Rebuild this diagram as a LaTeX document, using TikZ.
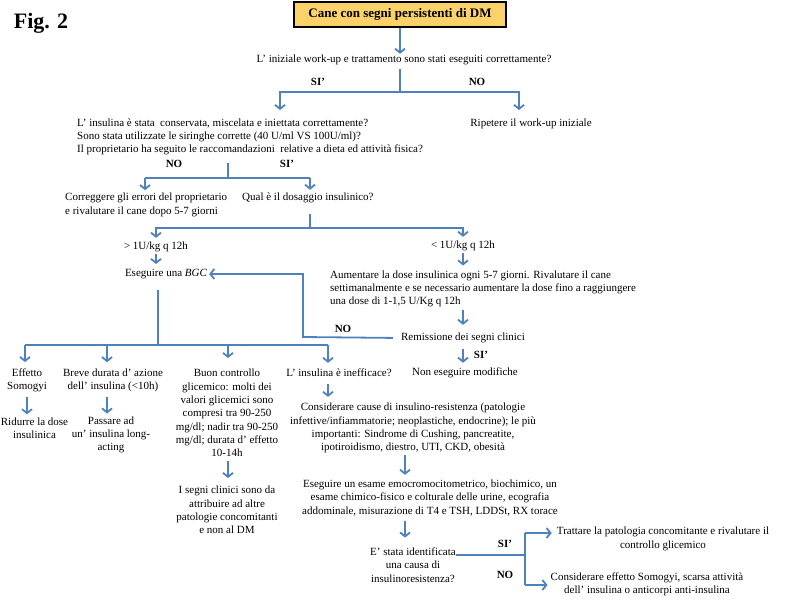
\documentclass[tikz,border=0pt]{standalone}
\usepackage{fontspec}
\setmainfont{Liberation Serif}
\usetikzlibrary{arrows.meta}
\definecolor{ablue}{RGB}{79,129,189}
\definecolor{tfill}{RGB}{250,210,105}
\begin{document}
\begin{tikzpicture}[x=1pt,y=-1pt,
  every node/.style={inner sep=0pt, align=center, font=\fontsize{11}{13.3}\selectfont},
  ltxt/.style={align=left, anchor=west},
  lbl/.style={font=\fontsize{11}{13.3}\selectfont\bfseries},
  conn/.style={draw=ablue, line width=1.8pt},
  arr/.style={conn, -{Straight Barb[length=4pt,width=10pt]}}]
\useasboundingbox (0,0) rectangle (797,600);

% nodes
\node[font=\fontsize{22}{26}\selectfont\bfseries] (fig) at (41,23) {Fig. 2};
\node[draw=black, line width=1.2pt, fill=tfill, minimum width=212pt, minimum height=25pt,
      font=\fontsize{13}{15}\selectfont\bfseries] (title) at (400,14.5) {Cane con segni persistenti di DM};
\node (q1) at (404,60) {L’ iniziale work-up e trattamento sono stati eseguiti correttamente?};
\node[lbl] (si1) at (318,82) {SI’};
\node[lbl] (no1) at (477,82) {NO};
\node (r1) at (531,124) {Ripetere il work-up iniziale};
\node[ltxt] (q2) at (77,137) {L’ insulina è stata \ conservata, miscelata e iniettata correttamente?\\Sono stata utilizzate le siringhe corrette (40 U/ml VS 100U/ml)?\\Il proprietario ha seguito le raccomandazioni \ relative a dieta ed attività fisica?};
\node[lbl] (no2) at (174,164) {NO};
\node[lbl] (si2) at (287,164) {SI’};
\node[ltxt] (c1) at (65,205) {Correggere gli errori del proprietario\\e rivalutare il cane dopo 5-7 giorni};
\node[ltxt] (q3) at (242,198) {Qual è il dosaggio insulinico?};
\node (d1) at (156,247) {> 1U/kg q 12h};
\node (d2) at (463,246) {< 1U/kg q 12h};
\node (bgc) at (166,274) {Eseguire una \textit{BGC}};
\node[ltxt] (aum) at (330,289) {Aumentare la dose insulinica ogni 5-7 giorni. Rivalutare il cane\\settimanalmente e se necessario aumentare la dose fino a raggiungere\\una dose di 1-1,5 U/Kg q 12h};
\node (rem) at (463,338) {Remissione dei segni clinici};
\node[lbl] (no3) at (343,329) {NO};
\node[lbl] (si3) at (481,355) {SI’};
\node (nom) at (465,373) {Non eseguire modifiche};
\node (e1) at (27,380) {Effetto\\Somogyi};
\node (e2) at (34.5,428) {Ridurre la dose\\insulinica};
\node (b1) at (113,380) {Breve durata d’ azione\\dell’ insulina (<10h)};
\node (b2) at (111,435) {Passare ad\\un’ insulina long-\\acting};
\node (g1) at (227,413) {Buon controllo\\glicemico: molti dei\\valori glicemici sono\\compresi tra 90-250\\mg/dl; nadir tra 90-250\\mg/dl; durata d’ effetto\\10-14h};
\node (g2) at (227,510) {I segni clinici sono da\\attribuire ad altre\\patologie concomitanti\\e non al DM};
\node (ins) at (339,373) {L’ insulina è inefficace?};
\node (cons) at (413,428) {Considerare cause di insulino-resistenza (patologie\\infettive/infiammatorie; neoplastiche, endocrine); le più\\importanti: Sindrome di Cushing, pancreatite,\\ipotiroidismo, diestro, UTI, CKD, obesità};
\node (es) at (430,498) {Eseguire un esame emocromocitometrico, biochimico, un\\esame chimico-fisico e colturale delle urine, ecografia\\addominale, misurazione di T4 e TSH, LDDSt, RX torace};
\node (id) at (413,565) {E’ stata identificata\\una causa di\\insulinoresistenza?};
\node (tr) at (663,539) {Trattare la patologia concomitante e rivalutare il\\controllo glicemico};
\node (cs) at (647,584) {Considerare effetto Somogyi, scarsa attività\\dell’ insulina o anticorpi anti-insulina};
\node[lbl] (si4) at (505,544) {SI’};
\node[lbl] (no4) at (505,575) {NO};

% coordinates
\coordinate (j1) at (400,92);
\coordinate (ea1) at (280,110);
\coordinate (ea2) at (519,110);
\coordinate (j2) at (228,178);
\coordinate (ja) at (145,178);
\coordinate (jb) at (310,178);
\coordinate (j3) at (310,228);
\coordinate (n1) at (303,337);
\coordinate (k0) at (158,345);
\coordinate (k1) at (25,345);
\coordinate (k2) at (107,345);
\coordinate (k3) at (228,345);
\coordinate (k4) at (328,345);
\coordinate (v) at (405,0);
\coordinate (m) at (525,555);
\coordinate (m1) at (525,533);
\coordinate (m2) at (525,585);

% connectors
\draw[arr, shorten >=1pt] (title.south) -- (title.south |- q1.north);
\draw[conn, shorten <=4pt] (q1.south -| j1) -- (j1);
\draw[arr] (j1) -| (ea1);
\draw[arr] (j1) -| (ea2);
\draw[conn, shorten <=7pt] (q2.south -| j2) -- (j2);
\draw[conn] (ja) -- (jb);
\draw[arr, shorten >=3pt] (ja) -- (ja |- c1.north);
\draw[arr, shorten >=3pt] (jb) -- (jb |- q3.north);
\draw[conn, shorten <=11pt] (q3.south -| j3) -- (j3);
\draw[arr, shorten >=4pt] (j3) -| (d1.north);
\draw[arr, shorten >=4pt] (j3) -| (d2.north);
\draw[arr, shorten <=2pt, shorten >=5pt] (d1.south) -- (d1.south |- bgc.north);
\draw[arr, shorten <=2pt, shorten >=5pt] (d2.south) -- (d2.south |- aum.north);
\draw[arr, shorten <=2pt, shorten >=8pt] (d2.south |- aum.south) -- (d2.south |- rem.north);
\draw[arr, shorten <=8pt, shorten >=2pt] (rem.west) -- (n1) |- (bgc.east);
\draw[arr, shorten <=6pt, shorten >=5pt] (rem.south) -- (rem.south |- nom.north);
\draw[conn, shorten <=11pt] (bgc.south -| k0) -- (k0);
\draw[conn] (k1) -- (k4);
\draw[arr, shorten >=6pt] (k1) -- (k1 |- e1.north);
\draw[arr, shorten >=6pt] (k2) -- (k2 |- b1.north);
\draw[arr, shorten >=11pt] (k3) -- (k3 |- g1.north);
\draw[arr, shorten >=6pt] (k4) -- (k4 |- ins.north);
\draw[arr, shorten <=5pt, shorten >=3pt] (e1.south) -- (e1.south |- e2.north);
\draw[arr, shorten <=5pt, shorten >=3pt] (b1.south -| k2) -- (b2.north -| k2);
\draw[arr, shorten <=4pt, shorten >=8pt] (g1.south -| k3) -- (g2.north -| k3);
\draw[arr, shorten <=7pt, shorten >=6pt] (ins.south -| k4) -- (cons.north -| k4);
\draw[arr, shorten <=2pt, shorten >=5pt] (cons.south -| v) -- (es.north -| v);
\draw[arr, shorten <=5pt, shorten >=10pt] (es.south -| v) -- (id.north -| v);
\draw[conn] (id.east |- m) -- (m);
\draw[conn] (m1) -- (m2);
\draw[arr, shorten >=5pt] (m1) -- (tr.west |- m1);
\draw[arr, shorten >=3pt] (m2) -- (cs.west |- m2);
\end{tikzpicture}
\end{document}
